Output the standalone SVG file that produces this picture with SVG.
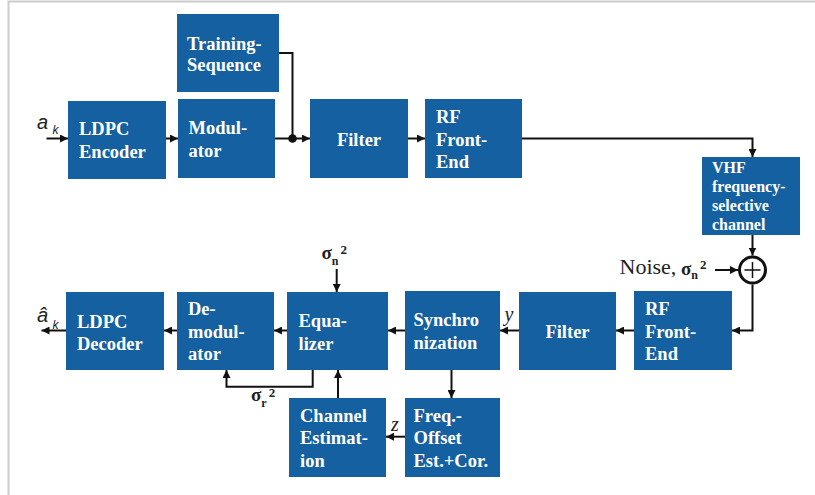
<svg xmlns="http://www.w3.org/2000/svg" width="815" height="495" viewBox="0 0 815 495">
<style>
.box{fill:#1560a0}
.t{font-family:"Liberation Serif","Times New Roman",serif;font-weight:bold;font-size:18.5px;fill:#fff}
.ts{font-family:"Liberation Serif","Times New Roman",serif;font-weight:bold;font-size:16px;fill:#fff}
.c{fill:none;stroke:#111;stroke-width:2}
.ca{fill:none;stroke:#111;stroke-width:2;marker-end:url(#ah)}
.lbl{font-family:"Liberation Serif","Times New Roman",serif;fill:#222}
.sig{font-family:"Liberation Serif","Times New Roman",serif;font-weight:bold;fill:#222;font-size:19px}
.sub{font-size:12px}
.sup{font-size:13px}
.ak{font-family:"Liberation Sans",Arial,sans-serif;font-style:italic;fill:#222}
</style>
<defs>
<marker id="ah" markerUnits="userSpaceOnUse" markerWidth="9" markerHeight="8" refX="8" refY="4" orient="auto">
<path d="M0,0 L8,4 L0,8 z" fill="#111"/>
</marker>
</defs>
<rect width="815" height="495" fill="#fff"/>
<path d="M8.5,495 V1.5 H815" fill="none" stroke="#cccccc" stroke-width="2"/>

<g id="training"><rect class="box" x="177" y="14" width="102" height="78"/>
<text class="t" x="187" y="49.5">Training-</text><text class="t" x="187" y="71">Sequence</text></g>
<g id="ldpc-enc"><rect class="box" x="68" y="101" width="98" height="78"/>
<text class="t" x="79" y="135">LDPC</text><text class="t" x="79" y="157.5">Encoder</text></g>
<g id="modulator"><rect class="box" x="178" y="99" width="97" height="79"/>
<text class="t" x="188.5" y="133.5">Modul-</text><text class="t" x="188.5" y="156.5">ator</text></g>
<g id="filter-tx"><rect class="box" x="310" y="99" width="98" height="79"/>
<text class="t" x="359" y="145.5" text-anchor="middle">Filter</text></g>
<g id="rf-tx"><rect class="box" x="425" y="99" width="97" height="79"/>
<text class="t" x="436" y="122.5">RF</text><text class="t" x="436" y="145.5">Front-</text><text class="t" x="436" y="167.5">End</text></g>
<g id="vhf"><rect class="box" x="702" y="157" width="98" height="78"/>
<text class="ts" x="712" y="172.5">VHF</text><text class="ts" x="712" y="191.5">frequency-</text><text class="ts" x="712" y="210.5">selective</text><text class="ts" x="712" y="229.5">channel</text></g>
<g id="adder"><circle cx="752.5" cy="270" r="13" fill="#fff" stroke="#111" stroke-width="3"/>
<path d="M744.5,270 H760.5 M752.5,262 V278" stroke="#111" stroke-width="1.5"/></g>
<g id="rf-rx"><rect class="box" x="634" y="291" width="98" height="79"/>
<text class="t" x="645" y="315">RF</text><text class="t" x="645" y="338">Front-</text><text class="t" x="645" y="359.5">End</text></g>
<g id="filter-rx"><rect class="box" x="519" y="292" width="97" height="78"/>
<text class="t" x="567.5" y="337.5" text-anchor="middle">Filter</text></g>
<g id="sync"><rect class="box" x="405" y="291" width="95" height="79"/>
<text class="t" x="413.5" y="326">Synchro</text><text class="t" x="413.5" y="349">nization</text></g>
<g id="freq"><rect class="box" x="405" y="398" width="95" height="79"/>
<text class="t" x="413.5" y="421.5">Freq.-</text><text class="t" x="413.5" y="444">Offset</text><text class="t" x="413.5" y="466.5">Est.+Cor.</text></g>
<g id="equalizer"><rect class="box" x="287" y="292" width="101" height="78"/>
<text class="t" x="298.5" y="327">Equa-</text><text class="t" x="298.5" y="349.5">lizer</text></g>
<g id="chan-est"><rect class="box" x="289" y="398" width="97" height="79"/>
<text class="t" x="300" y="421.5">Channel</text><text class="t" x="300" y="444">Estimat-</text><text class="t" x="300" y="466.5">ion</text></g>
<g id="demod"><rect class="box" x="177" y="292" width="97" height="78"/>
<text class="t" x="188" y="315">De-</text><text class="t" x="188" y="337.5">modul-</text><text class="t" x="188" y="360">ator</text></g>
<g id="ldpc-dec"><rect class="box" x="66" y="292" width="98" height="78"/>
<text class="t" x="77" y="327.5">LDPC</text><text class="t" x="77" y="349.5">Decoder</text></g>

<g id="connectors">
<path class="ca" d="M46.5,138.5 H68"/>
<path class="ca" d="M166,138.5 H178"/>
<path class="ca" d="M275,138.5 H310"/>
<path class="c" d="M279,53 H292.5 V138.5"/>
<circle cx="292.5" cy="138.5" r="4.3" fill="#111"/>
<path class="ca" d="M408,138.5 H425"/>
<path class="ca" d="M522,138.5 H752.5 V157"/>
<path class="ca" d="M752.5,235 V255.5"/>
<path class="ca" d="M715,270 H738"/>
<path class="ca" d="M752.5,284.5 V330.5 H732"/>
<path class="ca" d="M634,330.5 H616"/>
<path class="ca" d="M519,330.5 H500"/>
<path class="ca" d="M405,330.5 H388"/>
<path class="ca" d="M287,330.5 H274"/>
<path class="ca" d="M177,330.5 H164"/>
<path class="ca" d="M66,330.5 H41.5"/>
<path class="ca" d="M336.7,269 V292"/>
<path class="ca" d="M312.7,370 V386.7 H226.5 V370"/>
<path class="ca" d="M338,398 V370"/>
<path class="ca" d="M451.5,370 V398"/>
<path class="ca" d="M405,436.7 H386"/>
</g>

<g id="labels">
<text class="ak" x="37" y="128.5" font-size="20">a</text>
<text class="ak" x="52.5" y="133.5" font-size="12">k</text>
<text class="ak" x="37" y="321.5" font-size="20">â</text>
<text class="ak" x="52.5" y="328.5" font-size="12">k</text>
<text class="sig" x="321.5" y="258.5">σ<tspan class="sub" dy="6">n</tspan><tspan class="sup" dx="2" dy="-11">2</tspan></text>
<text class="sig" x="251" y="401">σ<tspan class="sub" dy="6">r</tspan><tspan class="sup" dx="2" dy="-10">2</tspan></text>
<text class="lbl" x="619.5" y="274" font-size="22">Noise,</text>
<text class="sig" x="681" y="275">σ<tspan class="sub" dy="3.5">n</tspan><tspan class="sup" dx="2" dy="-10">2</tspan></text>
<text class="lbl" x="504.5" y="320.5" font-size="20" font-style="italic">y</text>
<text class="lbl" x="391" y="430.5" font-size="20" font-style="italic">z</text>
</g>
</svg>
